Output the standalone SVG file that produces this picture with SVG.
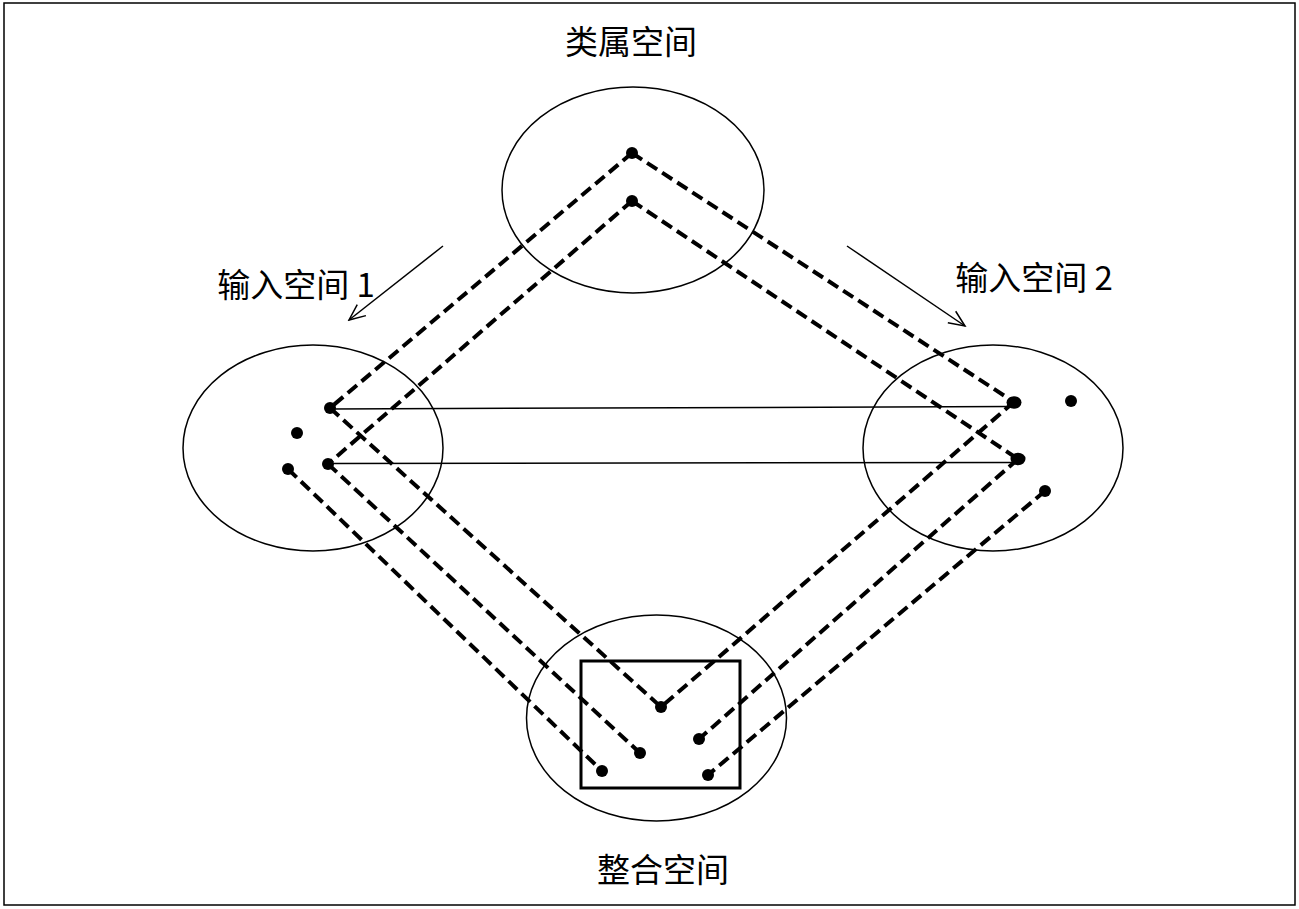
<svg xmlns="http://www.w3.org/2000/svg" width="1299" height="909" viewBox="0 0 1299 909">
<defs>
<style>
.space{fill:none;stroke:#000;stroke-width:1.5}
.dash{fill:none;stroke:#000;stroke-width:4;stroke-dasharray:12 6}
.solid{fill:none;stroke:#000;stroke-width:1.5}
.dot{fill:#000}
.lbl{font-family:"Noto Sans CJK SC","Liberation Sans",sans-serif;font-size:33px;fill:#000;text-anchor:middle}
</style>
<marker id="open" viewBox="0 0 20 20" refX="18" refY="10" markerWidth="20" markerHeight="20" markerUnits="userSpaceOnUse" orient="auto">
<path d="M2,3 L18,10 L2,17" fill="none" stroke="#000" stroke-width="1.5"/>
</marker>
</defs>
<rect x="0" y="0" width="1299" height="909" fill="#fff"/>
<rect x="4" y="3" width="1291" height="902" fill="none" stroke="#000" stroke-width="1.5"/>

<g id="generic-space">
<ellipse class="space" cx="633" cy="190" rx="131" ry="103"/>
<text class="lbl" x="631" y="54">类属空间</text>
<circle class="dot" cx="632" cy="153" r="6"/>
<circle class="dot" cx="632" cy="201" r="6"/>
</g>

<g id="input-space-1">
<ellipse class="space" cx="313" cy="448" rx="130" ry="103"/>
<text class="lbl" x="296" y="297">输入空间 1</text>
<circle class="dot" cx="330" cy="408" r="6"/>
<circle class="dot" cx="297" cy="433" r="6"/>
<circle class="dot" cx="288" cy="469" r="6"/>
<circle class="dot" cx="328" cy="464" r="6"/>
</g>

<g id="input-space-2">
<ellipse class="space" cx="993" cy="448" rx="130" ry="103"/>
<text class="lbl" x="1034" y="290">输入空间 2</text>
<ellipse class="dot" cx="1014" cy="402.5" rx="7.5" ry="6.2"/>
<circle class="dot" cx="1071" cy="401" r="6"/>
<ellipse class="dot" cx="1018" cy="459" rx="7.5" ry="6.2"/>
<circle class="dot" cx="1045" cy="491" r="6"/>
</g>

<g id="blended-space">
<ellipse class="space" cx="656.5" cy="718" rx="130" ry="103"/>
<rect x="581" y="661" width="159" height="127" fill="none" stroke="#000" stroke-width="3"/>
<text class="lbl" x="663" y="882">整合空间</text>
<circle class="dot" cx="661" cy="707" r="6"/>
<circle class="dot" cx="640" cy="753" r="6"/>
<circle class="dot" cx="602" cy="771" r="6"/>
<circle class="dot" cx="699" cy="739" r="6"/>
<circle class="dot" cx="708" cy="775" r="6"/>
</g>

<g id="connectors">
<path class="dash" d="M632,153 L330,408"/>
<path class="dash" d="M632,153 L1014,402"/>
<path class="dash" d="M632,201 L328,464"/>
<path class="dash" d="M632,201 L1018,459"/>
<path class="dash" d="M330,408 L661,707"/>
<path class="dash" d="M1014,402 L661,707"/>
<path class="dash" d="M328,464 L640,753"/>
<path class="dash" d="M1018,459 L699,739"/>
<path class="dash" d="M288,469 L602,771"/>
<path class="dash" d="M1045,491 L708,775"/>
<path class="solid" d="M330,409 L1012,406.5"/>
<path class="solid" d="M328,463.5 L1016,462.5"/>
<path class="solid" d="M443,246 L349,320" marker-end="url(#open)"/>
<path class="solid" d="M847,246 L965,326" marker-end="url(#open)"/>
</g>
</svg>
